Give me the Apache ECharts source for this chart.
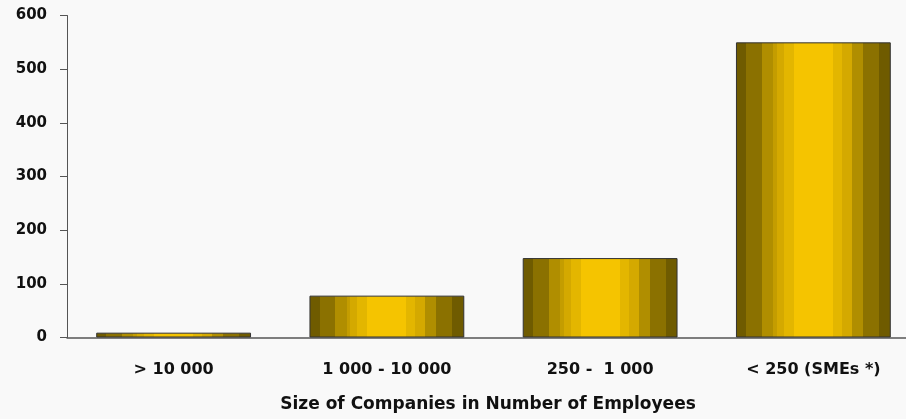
<!DOCTYPE html>
<html>
<head>
<meta charset="utf-8">
<script src="https://cdn.jsdelivr.net/npm/echarts@6/dist/echarts.min.js"></script>
<style>
  html, body { margin: 0; padding: 0; background: #f9f9f9; }
  #chart { width: 906px; height: 419px; }
</style>
</head>
<body>
<div id="chart"></div>
<script>
// Company size classes and the number of companies in each
const categories = ['> 10 000', '1 000 - 10 000', '250 -  1 000', '< 250 (SMEs *)'];
const companyCounts = [9, 78, 148, 550];
const yTicks = [0, 100, 200, 300, 400, 500, 600];
const axisTitle = 'Size of Companies in Number of Employees';

const FONT = '"DejaVu Sans", sans-serif';

// Banded "cylinder" shading: [start, end, colour] across the bar width
const bands = [
  [0.000, 0.065, '#6f5b00'],
  [0.065, 0.168, '#8b7100'],
  [0.168, 0.240, '#b08e00'],
  [0.240, 0.265, '#c49d00'],
  [0.265, 0.310, '#d4a900'],
  [0.310, 0.374, '#e3b600'],
  [0.374, 0.626, '#f5c400'],
  [0.626, 0.684, '#e3b600'],
  [0.684, 0.748, '#d4a900'],
  [0.748, 0.820, '#b08e00'],
  [0.820, 0.923, '#8b7100'],
  [0.923, 1.000, '#6f5b00']
];
const stops = [];
bands.forEach(([a, b, c]) => {
  stops.push({ offset: a, color: c });
  stops.push({ offset: b, color: c });
});

const chart = echarts.init(document.getElementById('chart'));
chart.setOption({
  backgroundColor: '#f9f9f9',
  animation: false,
  title: {
    text: axisTitle,
    left: 488,
    top: 396,
    textAlign: 'center',
    padding: 0,
    textStyle: { fontFamily: FONT, fontWeight: 'bold', fontSize: 17, color: '#111' }
  },
  // the plot runs a little past the right edge of the canvas
  grid: {
    left: 67, width: 853, top: 15.5, bottom: 81.5,
    containLabel: false, outerBoundsMode: 'none'
  },
  xAxis: {
    type: 'category',
    data: categories,
    axisLine: { lineStyle: { color: '#555', width: 1.5 } },
    axisTick: { show: false },
    axisLabel: {
      margin: 24,
      fontFamily: FONT, fontWeight: 'bold', fontSize: 16, color: '#111'
    },
    splitLine: { show: false }
  },
  yAxis: {
    type: 'value',
    min: yTicks[0],
    max: yTicks[yTicks.length - 1],
    interval: yTicks[1] - yTicks[0],
    axisLine: { show: true, lineStyle: { color: '#555', width: 1 } },
    axisTick: { show: true, inside: false, length: 7, lineStyle: { color: '#555' } },
    axisLabel: {
      margin: 20,
      fontFamily: FONT, fontWeight: 'bold', fontSize: 15, color: '#111'
    },
    splitLine: { show: false }
  },
  series: [{
    type: 'bar',
    data: companyCounts,
    barWidth: '72.6%',
    itemStyle: {
      color: { type: 'linear', x: 0, y: 0, x2: 1, y2: 0, colorStops: stops },
      borderColor: '#333',
      borderWidth: 1
    }
  }]
});
</script>
</body>
</html>
